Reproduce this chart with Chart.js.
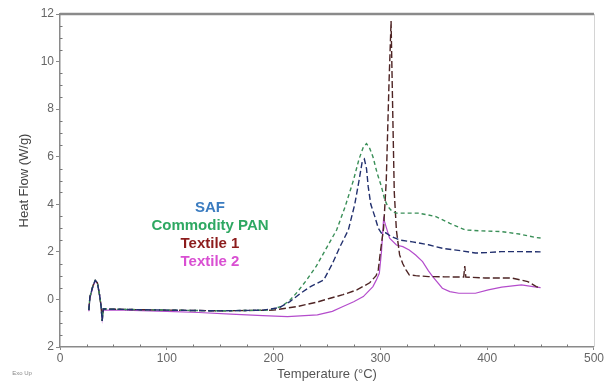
<!DOCTYPE html>
<html>
<head>
<meta charset="utf-8">
<script src="https://cdn.jsdelivr.net/npm/chart.js@4/dist/chart.umd.min.js"></script>
<style>
  html, body { margin: 0; padding: 0; background: #fff; }
  #wrap { width: 605px; height: 382px; }
</style>
</head>
<body>
<div id="wrap"><canvas id="dsc" width="605" height="382"></canvas></div>
<script>
// =====================
// DATA
// =====================
const seriesNames = ["SAF", "Commodity PAN", "Textile 1", "Textile 2"];
const yTickLabels = { "-2": "2", "0": "0", "2": "2", "4": "4", "6": "6", "8": "8", "10": "10", "12": "12" };

const safTemp = [27, 28, 31, 33, 35, 37, 38.5, 39.5, 40.5, 60, 100, 150, 190, 205, 215, 225, 235, 247, 255, 262, 270, 276, 280, 283, 285, 287, 288.6, 291, 294.8, 298, 300.9, 305, 310, 318, 330, 345, 358, 375, 389, 400, 413, 430, 450];
const safFlow = [-0.45, 0.1, 0.6, 0.8, 0.7, 0.2, -0.3, -0.9, -0.4, -0.42, -0.45, -0.48, -0.45, -0.35, -0.1, 0.25, 0.55, 0.82, 1.5, 2.2, 2.92, 4.0, 5.0, 5.8, 5.9, 5.5, 4.74, 4.0, 3.48, 3.0, 2.79, 2.8, 2.65, 2.5, 2.42, 2.3, 2.15, 2.05, 1.95, 1.97, 2.01, 2.01, 2.0];

const panTemp = [27, 28, 31, 33, 35, 37, 38.5, 39.5, 40.5, 60, 100, 150, 195, 207, 215, 222, 231, 240, 250, 259, 267, 274.7, 280, 284, 287, 290, 293, 297, 301, 304, 307, 311, 315, 325, 335, 345, 352, 365, 379.6, 395, 413.6, 430, 446, 450];
const panFlow = [-0.45, 0.1, 0.6, 0.8, 0.7, 0.2, -0.3, -0.9, -0.4, -0.42, -0.45, -0.48, -0.45, -0.3, -0.05, 0.3, 0.82, 1.4, 2.2, 2.92, 3.9, 5.0, 5.9, 6.4, 6.55, 6.35, 6.0, 5.3, 4.74, 4.2, 3.9, 3.7, 3.63, 3.63, 3.63, 3.55, 3.48, 3.2, 2.92, 2.88, 2.85, 2.75, 2.6, 2.58];

const tex1Temp = [27, 28, 31, 33, 35, 37, 38.5, 39.5, 40.5, 60, 100, 150, 200, 222, 240, 253, 265, 278, 290, 296, 298, 300, 303, 305.5, 308, 310, 311.5, 313, 315, 318, 321, 324, 327, 333, 345, 360, 378, 379, 380, 398, 423, 438, 446, 450];
const tex1Flow = [-0.45, 0.1, 0.6, 0.8, 0.7, 0.2, -0.3, -0.9, -0.4, -0.42, -0.45, -0.48, -0.45, -0.3, -0.12, 0.05, 0.2, 0.4, 0.7, 1.0, 1.24, 2.0, 3.0, 5.0, 9.0, 11.7, 8.0, 4.5, 2.9, 1.87, 1.5, 1.24, 1.03, 1.0, 0.96, 0.95, 0.94, 1.4, 0.94, 0.9, 0.9, 0.75, 0.54, 0.5];

const tex2Temp = [27, 28, 31, 33, 35, 37, 38.5, 39.5, 40.5, 60, 100, 130, 160, 190, 213, 241, 255, 265, 275, 284, 293, 296, 299, 301, 303, 305, 308.6, 315, 321, 327, 333, 339.5, 345, 349, 358, 365, 373.5, 389, 401, 413.6, 432, 446, 450];
const tex2Flow = [-0.5, 0.05, 0.55, 0.78, 0.68, 0.2, -0.3, -0.8, -0.45, -0.45, -0.5, -0.55, -0.62, -0.68, -0.72, -0.65, -0.5, -0.3, -0.1, 0.12, 0.54, 0.8, 1.1, 2.0, 3.4, 3.1, 2.58, 2.29, 2.22, 2.08, 1.87, 1.59, 1.2, 0.96, 0.47, 0.33, 0.26, 0.26, 0.4, 0.52, 0.61, 0.52, 0.5];

// =====================
// STYLE
// =====================
const lineColors = ["#22306e", "#3a8f58", "#4e2424", "#b44ccc"];
const labelColors = ["#3b7cc0", "#2ea862", "#8c1c1c", "#d94fd2"];
const dashes = [[6, 3], [4, 3], [7, 3], []];

const pairs = (xs, ys) => xs.map((x, i) => ({ x, y: ys[i] }));
const curves = [pairs(safTemp, safFlow), pairs(panTemp, panFlow), pairs(tex1Temp, tex1Flow), pairs(tex2Temp, tex2Flow)];

// =====================
// EXTRAS: frame, minor ticks, labels
// =====================
const extras = {
  id: "extras",
  afterDraw(chart) {
    const { ctx, chartArea: a, scales } = chart;
    ctx.save();

    // top and right frame
    ctx.strokeStyle = "#8a8a8a";
    ctx.lineWidth = 2.5;
    ctx.beginPath();
    ctx.moveTo(a.left, a.top);
    ctx.lineTo(a.right, a.top);
    ctx.stroke();
    ctx.strokeStyle = "#d4d4d4";
    ctx.lineWidth = 1;
    ctx.beginPath();
    ctx.moveTo(a.right + 0.5, a.top);
    ctx.lineTo(a.right + 0.5, a.bottom);
    ctx.stroke();

    // minor ticks inward
    ctx.strokeStyle = "#777";
    ctx.lineWidth = 1;
    for (let v = -2; v <= 12; v += 0.5) {
      if (v % 2 === 0) continue;
      const py = Math.round(scales.y.getPixelForValue(v)) + 0.5;
      ctx.beginPath();
      ctx.moveTo(a.left, py);
      ctx.lineTo(a.left + 2.5, py);
      ctx.stroke();
    }
    for (let v = 25; v < 500; v += 25) {
      if (v % 100 === 0) continue;
      const px = Math.round(scales.x.getPixelForValue(v)) + 0.5;
      ctx.beginPath();
      ctx.moveTo(px, a.bottom);
      ctx.lineTo(px, a.bottom - 2.5);
      ctx.stroke();
    }

    // series labels
    ctx.font = "bold 15px 'Liberation Sans', Arial, sans-serif";
    ctx.textAlign = "center";
    ctx.textBaseline = "middle";
    const ys = [208, 226, 244, 262];
    seriesNames.forEach((name, i) => {
      ctx.fillStyle = labelColors[i];
      ctx.fillText(name, 210, ys[i]);
    });

    // exo up note
    ctx.font = "6px 'Liberation Sans', Arial, sans-serif";
    ctx.fillStyle = "#888";
    ctx.textAlign = "center";
    ctx.fillText("Exo Up", 22, 373);

    ctx.restore();
  }
};

// =====================
// CHART
// =====================
new Chart(document.getElementById("dsc"), {
  type: "scatter",
  data: {
    datasets: curves.map((pts, i) => ({
      label: seriesNames[i],
      data: pts,
      showLine: true,
      borderColor: lineColors[i],
      borderWidth: i === 3 ? 1.2 : 1.4,
      borderDash: dashes[i],
      pointRadius: 0,
      tension: 0,
      fill: false
    }))
  },
  options: {
    responsive: false,
    animation: false,
    layout: { padding: { top: 14, right: 7, left: 0, bottom: 0 } },
    plugins: { legend: { display: false }, tooltip: { enabled: false } },
    scales: {
      x: {
        type: "linear",
        min: 0,
        max: 500,
        afterFit: s => { s.height = 35; },
        ticks: { stepSize: 100, color: "#666", font: { size: 12, family: "'Liberation Sans', Arial" }, padding: 1, maxRotation: 0 },
        grid: { drawOnChartArea: false, drawTicks: true, tickLength: 3, color: "#888" },
        border: { color: "#8a8a8a", width: 1.5 },
        title: { display: true, text: "Temperature (°C)", color: "#555", font: { size: 13, family: "'Liberation Sans', Arial" }, padding: 0 }
      },
      y: {
        min: -2,
        max: 12,
        afterFit: s => { s.width = 60; },
        ticks: {
          stepSize: 2,
          color: "#666",
          font: { size: 12, family: "'Liberation Sans', Arial" },
          padding: 2,
          callback: v => yTickLabels[String(v)] ?? ""
        },
        grid: { drawOnChartArea: false, drawTicks: true, tickLength: 4, color: "#888" },
        border: { color: "#8a8a8a", width: 1.5 },
        title: { display: true, text: "Heat Flow (W/g)", color: "#444", font: { size: 13, family: "'Liberation Sans', Arial" }, padding: { top: 17, bottom: 0 } }
      }
    }
  },
  plugins: [extras]
});
</script>
</body>
</html>
